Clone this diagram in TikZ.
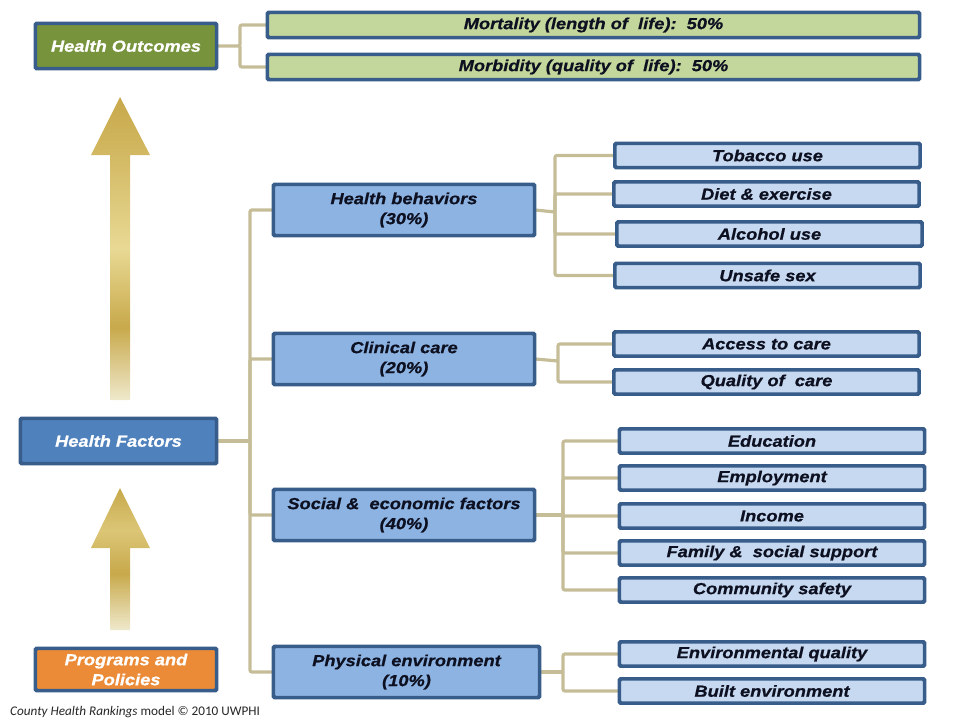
\documentclass[tikz,border=0pt]{standalone}
\usepackage{fontspec}
\setmainfont{Liberation Sans}
\newfontfamily\boxfont[FakeStretch=1.14,FakeBold=0.6]{Liberation Sans}
\newfontfamily\footfont{Carlito}
\usetikzlibrary{positioning}

\definecolor{boxline}{HTML}{385D8A}
\definecolor{outgreen}{HTML}{77933C}
\definecolor{lightgreen}{HTML}{C3D69B}
\definecolor{factblue}{HTML}{4F81BD}
\definecolor{midblue}{HTML}{8DB3E2}
\definecolor{paleblue}{HTML}{C6D9F1}
\definecolor{progorange}{HTML}{EB8B38}
\definecolor{tanline}{HTML}{C4BD97}
\definecolor{inkblue}{HTML}{0D1020}
\definecolor{golddark}{HTML}{C8A94B}
\definecolor{goldlight}{HTML}{E8D994}
\definecolor{goldpale}{HTML}{EFE9CC}

% shading of the two big arrows (path maps to 25bp..75bp)
\pgfdeclareverticalshading{goldlong}{100bp}{color(0bp)=(goldpale); color(25bp)=(goldpale);
  color(37bp)=(golddark); color(50bp)=(goldlight); color(66bp)=(golddark!70!goldlight);
  color(75bp)=(golddark); color(100bp)=(golddark)}
\pgfdeclareverticalshading{goldshort}{100bp}{color(0bp)=(goldpale); color(25bp)=(goldpale);
  color(45bp)=(golddark); color(60bp)=(goldlight!60!golddark); color(75bp)=(golddark); color(100bp)=(golddark)}

\begin{document}
\begin{tikzpicture}[x=1pt,y=-1pt,
    box/.style={draw=boxline, line width=2.4pt, rounded corners=1.5pt, inner sep=0pt,
      align=center, text=inkblue, font=\boxfont\fontsize{16}{20}\selectfont\bfseries\itshape},
    topbox/.style={box, text=white, minimum height=44pt},
    outbox/.style={box, fill=lightgreen, minimum width=651pt, minimum height=24pt},
    midbox/.style={box, fill=midblue, minimum width=260pt, minimum height=50pt},
    leaf/.style={box, fill=paleblue, minimum width=304pt, minimum height=23pt},
    link/.style={draw=tanline, line width=3.2pt, rounded corners=2pt}]
  \useasboundingbox (0,0) rectangle (960,720);

  % big arrows
  \path[shading=goldlong] (110,400) -- (110,155) -- (91,155) -- (120,97) -- (150,155)
    -- (130,155) -- (130,400) -- cycle;
  \path[shading=goldshort] (110,630) -- (110,548) -- (91,548) -- (120,488) -- (150,548)
    -- (130,548) -- (130,630) -- cycle;

  % left column
  \node[topbox, fill=outgreen, minimum width=180pt] (ho) at (126,46) {Health Outcomes};
  \node[topbox, fill=factblue, minimum width=195pt] (hf) at (118.5,441) {Health Factors};
  \node[topbox, fill=progorange, minimum width=180pt, minimum height=41pt] (pp) at (126,669.5)
    {Programs and\\Policies};

  % outcomes
  \node[outbox] (mort) at (593.5,25) {Mortality (length of\ \ life):\ \ 50\%};
  \node[outbox] (morb) at (593.5,67) {Morbidity (quality of\ \ life):\ \ 50\%};

  % factors
  \node[midbox] (hb) at (404,210) {Health behaviors\\(30\%)};
  \node[midbox] (cc) at (404,359) {Clinical care\\(20\%)};
  \node[midbox] (se) at (404,515) {Social \&\ \ economic factors\\(40\%)};
  \node[midbox, minimum width=265pt] (pe) at (406.5,672) {Physical environment\\(10\%)};

  % leaves
  \node[leaf] (tob) at (767.5,155.5) {Tobacco use};
  \node[leaf] (diet) at (766.5,194) {Diet \&\ exercise};
  \node[leaf] (alc) at (769.5,234) {Alcohol use};
  \node[leaf] (sex) at (767.5,275.5) {Unsafe sex};
  \node[leaf] (acc) at (766.5,344) {Access to care};
  \node[leaf] (qual) at (766.5,382) {Quality of\ \ care};
  \node[leaf] (edu) at (772,441) {Education};
  \node[leaf] (emp) at (772,478) {Employment};
  \node[leaf] (inc) at (772,516) {Income};
  \node[leaf] (fam) at (772,553) {Family \&\ \ social support};
  \node[leaf] (com) at (772,590) {Community safety};
  \node[leaf] (env) at (772,654) {Environmental quality};
  \node[leaf] (blt) at (772,691) {Built environment};

  % brackets
  \coordinate (jo) at (240,46);
  \coordinate (jf) at (250,441);
  \coordinate (jb) at (555,212);
  \coordinate (jc) at (558,361);
  \coordinate (js) at (563,515);
  \coordinate (jp) at (563,672);

  \draw[link] (ho.east) -- (jo) |- (mort.west);
  \draw[link] (jo) |- (morb.west);

  \draw[link] (hf.east) -- (jf);
  \draw[link] (jf) |- (hb.west);
  \draw[link] (jf) |- (cc.west);
  \draw[link] (jf) |- (se.west);
  \draw[link] (jf) |- (pe.west);

  \draw[link] (hb.east) -- (jb);
  \foreach \n in {tob,diet,alc,sex} \draw[link] (jb) |- (\n.west);
  \draw[link] (cc.east) -- (jc);
  \foreach \n in {acc,qual} \draw[link] (jc) |- (\n.west);
  \draw[link] (se.east) -- (js);
  \foreach \n in {edu,emp,inc,fam,com} \draw[link] (js) |- (\n.west);
  \draw[link] (pe.east) -- (jp);
  \foreach \n in {env,blt} \draw[link] (jp) |- (\n.west);

  % redraw box edges over the links
  \foreach \n in {ho,hf,pp,mort,morb,hb,cc,se,pe,tob,diet,alc,sex,acc,qual,edu,emp,inc,fam,com,env,blt}
    \draw[boxline, line width=2.4pt, rounded corners=1.5pt] (\n.north west) rectangle (\n.south east);

  \node[anchor=west, inner sep=0pt, text=black!85, font=\footfont\fontsize{13.2}{15}\selectfont] (credit) at (10,712)
    {\textit{County Health Rankings} model \textcopyright\ 2010 UWPHI};
\end{tikzpicture}
\end{document}
